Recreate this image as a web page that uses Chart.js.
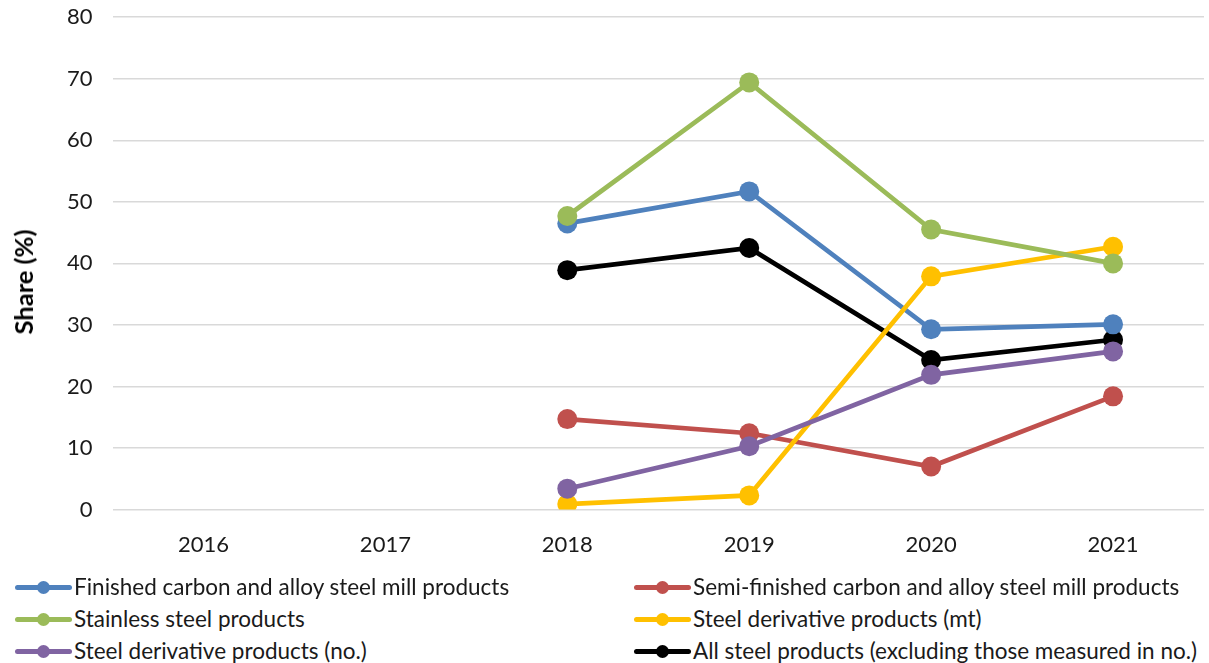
<!DOCTYPE html>
<html>
<head>
<meta charset="utf-8">
<script src="https://cdn.jsdelivr.net/npm/chart.js@4/dist/chart.umd.min.js"></script>
<style>
  html, body { margin: 0; padding: 0; background: #fff; overflow: hidden; }
  #wrap { position: relative; width: 1209px; height: 663px; overflow: hidden; font-family: Lato, "Open Sans", sans-serif; }
  #chart { position: absolute; left: 0; top: -16px; }
  #ytitle { position: absolute; left: 23px; top: 282px; transform: translate(-50%, -50%) rotate(-90deg);
            font-size: 25.5px; font-weight: bold; color: #000; white-space: nowrap; }
  #legend { position: absolute; left: 0; top: 571px; width: 1209px; }
  .item { position: absolute; height: 32px; line-height: 32px; font-size: 22.5px; color: #1a1a1a; white-space: nowrap; }
  .mark { display: inline-block; position: relative; width: 57px; height: 32px; vertical-align: top; margin-right: 2px; }
  .mark .ln { position: absolute; left: 0; right: 0; top: 14px; height: 5px; border-radius: 2.5px; }
  .mark .dot { position: absolute; left: 22px; top: 10px; width: 13px; height: 13px; border-radius: 50%; }
</style>
</head>
<body>
<div id="wrap">
  <canvas id="chart" width="1214" height="598"></canvas>
  <div id="ytitle">Share (%)</div>
  <div id="legend"></div>
</div>
<script>
const years = ['2016', '2017', '2018', '2019', '2020', '2021'];

const finishedCarbon = [null, null, 46.5, 51.7, 29.3, 30.1];
const semiFinished   = [null, null, 14.7, 12.4, 7.0, 18.4];
const stainless      = [null, null, 47.7, 69.4, 45.5, 40.0];
const derivativeMt   = [null, null, 0.9, 2.3, 37.9, 42.7];
const derivativeNo   = [null, null, 3.4, 10.3, 21.9, 25.7];
const allSteel       = [null, null, 38.9, 42.5, 24.3, 27.6];

const seriesNames = [
  'Finished carbon and alloy steel mill products',
  'Semi-finished carbon and alloy steel mill products',
  'Stainless steel products',
  'Steel derivative products (mt)',
  'Steel derivative products (no.)',
  'All steel products (excluding those measured in no.)'
];
const seriesData = [finishedCarbon, semiFinished, stainless, derivativeMt, derivativeNo, allSteel];
const colors = ['#4f81bd', '#c0504d', '#9bbb59', '#ffc000', '#8064a2', '#000000'];

// draw order: black on top, stainless over finished at 2018
const order = [4, 3, 0, 2, 1, 5];

const datasets = seriesNames.map((name, i) => ({
  label: name,
  data: seriesData[i],
  borderColor: colors[i],
  backgroundColor: colors[i],
  borderWidth: 4.7,
  pointRadius: 10,
  pointHoverRadius: 10,
  pointBorderWidth: 0,
  tension: 0,
  order: order[i]
}));

const chart = new Chart(document.getElementById('chart'), {
  type: 'line',
  data: { labels: years, datasets },
  options: {
    responsive: false,
    animation: false,
    layout: { padding: { left: 47, right: 0, top: 0, bottom: 10 } },
    plugins: { legend: { display: false }, tooltip: { enabled: false } },
    scales: {
      x: {
        offset: true,
        grid: { display: false },
        border: { display: false },
        ticks: { color: '#1a1a1a', padding: 14, font: { family: 'Lato', size: 22 } }
      },
      y: {
        min: 0,
        max: 80,
        ticks: { stepSize: 10, color: '#1a1a1a', padding: 20, font: { family: 'Lato', size: 22 } },
        grid: { color: '#d9d9d9', lineWidth: 1.5, drawTicks: false },
        border: { display: false }
      }
    }
  }
});

// two-column legend under the plot
const legend = document.getElementById('legend');
chart.data.datasets.forEach((ds, i) => {
  const col = i % 2, row = Math.floor(i / 2);
  const item = document.createElement('div');
  item.className = 'item';
  item.style.left = (col === 0 ? 15 : 634) + 'px';
  item.style.top = (row * 32) + 'px';
  item.innerHTML = '<span class="mark"><span class="ln" style="background:' + ds.borderColor +
    '"></span><span class="dot" style="background:' + ds.borderColor + '"></span></span>' + ds.label;
  legend.appendChild(item);
});
</script>
</body>
</html>
